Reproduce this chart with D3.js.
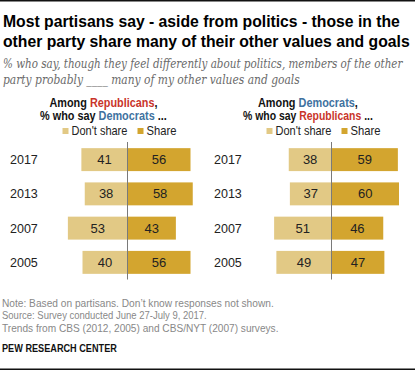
<!DOCTYPE html>
<html>
<head>
<meta charset="utf-8">
<script src="https://cdn.jsdelivr.net/npm/d3@7"></script>
<style>
  body { margin: 0; background: #fff; }
  svg { display: block; }
</style>
</head>
<body>
<svg id="chart" width="415" height="371"></svg>
<script>
// ---- data ----
var years = ["2017", "2013", "2007", "2005"];
var repDontShare = [41, 38, 53, 40];
var repShare = [56, 58, 43, 56];
var demDontShare = [38, 37, 51, 49];
var demShare = [59, 60, 46, 47];
var legendLabels = ["Don't share", "Share"];

var titleLines = [
  "Most partisans say - aside from politics - those in the",
  "other party share many of their other values and goals"
];
var subtitleLines = [
  "% who say, though they feel differently about politics, members of the other",
  "party probably ____ many of my other values and goals"
];
var noteLines = [
  "Note: Based on partisans. Don\u2019t know responses not shown.",
  "Source: Survey conducted June 27-July 9, 2017.",
  "Trends from CBS (2012, 2005) and CBS/NYT (2007) surveys."
];

var svg = d3.select("#chart"),
    width = +svg.attr("width"),
    height = +svg.attr("height");

var colDont = "#e2c985",
    colShare = "#d3a52f",
    colRep = "#c9342a",
    colDem = "#40729f",
    sans = "'Liberation Sans', Arial, sans-serif";

// squeeze a text horizontally so it spans w pixels (Pew's font is condensed)
function fit(sel, x, y, w) {
  var natural = sel.node().getComputedTextLength();
  var s = Math.min(1, w / natural);
  sel.attr("x", 0).attr("y", 0)
    .attr("transform", "translate(" + x + "," + y + ") scale(" + s + ",1)");
}

// top and bottom rules
svg.append("rect").attr("x", 0).attr("y", 0).attr("width", width).attr("height", 1.5).attr("fill", "#111");
svg.append("rect").attr("x", 0).attr("y", 368.5).attr("width", width).attr("height", 1.5).attr("fill", "#111");

// title
var titleW = [397, 407];
svg.selectAll(".title")
  .data(titleLines)
  .enter().append("text")
  .attr("class", "title")
  .style("font-family", sans)
  .style("font-weight", "bold")
  .style("font-size", "17px")
  .attr("fill", "#000")
  .text(function (d) { return d; })
  .each(function (d, i) { fit(d3.select(this), 3, 27 + i * 20, titleW[i]); });

// subtitle
var subW = [400, 297];
svg.selectAll(".subtitle")
  .data(subtitleLines)
  .enter().append("text")
  .attr("class", "subtitle")
  .style("font-family", "'DejaVu Serif', Georgia, serif")
  .style("font-style", "italic")
  .style("font-size", "12.5px")
  .attr("fill", "#6a6a6a")
  .text(function (d) { return d; })
  .each(function (d, i) { fit(d3.select(this), 3, 68 + i * 15.5, subW[i]); });

// %%%%%%%%%%%%%%%%%%%%
// % Panels           %
// %%%%%%%%%%%%%%%%%%%%

var y = d3.scaleBand()
  .domain(years)
  .range([142.5, 279.5])
  .paddingInner(0.33)
  .paddingOuter(0.165);

function drawPanel(cx, yearX, dontVals, shareVals, who, whom, whoCol, whomCol, titleX, titleW1, titleW2) {
  var x = d3.scaleLinear().domain([-100, 100]).range([cx - 112.5, cx + 112.5]);
  var g = svg.append("g");

  // panel heading
  var t1 = g.append("text")
    .style("font-family", sans).style("font-weight", "bold").style("font-size", "12px");
  t1.append("tspan").attr("fill", "#111").text("Among ");
  t1.append("tspan").attr("fill", whoCol).text(who);
  t1.append("tspan").attr("fill", "#111").text(",");
  fit(t1, titleX - titleW1 / 2, 107, titleW1);

  var t2 = g.append("text")
    .style("font-family", sans).style("font-weight", "bold").style("font-size", "12px");
  t2.append("tspan").attr("fill", "#111").text("% who say ");
  t2.append("tspan").attr("fill", whomCol).text(whom);
  t2.append("tspan").attr("fill", "#111").text(" ...");
  fit(t2, titleX - titleW2 / 2, 119.5, titleW2);

  // legend
  var legX = [cx - 65, cx + 10],
      legW = [56, 30],
      legC = [colDont, colShare];
  legendLabels.forEach(function (lab, i) {
    g.append("rect")
      .attr("x", legX[i]).attr("y", 128)
      .attr("width", 6).attr("height", 6)
      .attr("fill", legC[i]);
    var lt = g.append("text")
      .style("font-family", sans).style("font-size", "12px")
      .attr("fill", "#222")
      .text(lab);
    fit(lt, legX[i] + 9, 134.5, legW[i]);
  });

  var rows = years.map(function (yr, i) {
    return { year: yr, dont: dontVals[i], share: shareVals[i] };
  });

  // don't share bars (left of zero)
  g.selectAll(".dont")
    .data(rows)
    .enter().append("rect")
    .attr("class", "dont")
    .attr("x", function (d) { return x(-d.dont); })
    .attr("y", function (d) { return y(d.year); })
    .attr("width", function (d) { return x(0) - x(-d.dont); })
    .attr("height", y.bandwidth())
    .attr("fill", colDont);

  // share bars (right of zero)
  g.selectAll(".share")
    .data(rows)
    .enter().append("rect")
    .attr("class", "share")
    .attr("x", x(0))
    .attr("y", function (d) { return y(d.year); })
    .attr("width", function (d) { return x(d.share) - x(0); })
    .attr("height", y.bandwidth())
    .attr("fill", colShare);

  // value labels
  g.selectAll(".dontLab")
    .data(rows)
    .enter().append("text")
    .attr("x", function (d) { return (x(-d.dont) + x(0)) / 2; })
    .attr("y", function (d) { return y(d.year) + y.bandwidth() / 2 + 4.5; })
    .attr("text-anchor", "middle")
    .style("font-family", sans).style("font-size", "13px")
    .attr("fill", "#222")
    .text(function (d) { return d.dont; });

  g.selectAll(".shareLab")
    .data(rows)
    .enter().append("text")
    .attr("x", function (d) { return (x(d.share) + x(0)) / 2; })
    .attr("y", function (d) { return y(d.year) + y.bandwidth() / 2 + 4.5; })
    .attr("text-anchor", "middle")
    .style("font-family", sans).style("font-size", "13px")
    .attr("fill", "#222")
    .text(function (d) { return d.share; });

  // year labels
  g.selectAll(".yr")
    .data(rows)
    .enter().append("text")
    .attr("x", yearX)
    .attr("y", function (d) { return y(d.year) + y.bandwidth() / 2 + 4.5; })
    .style("font-family", sans).style("font-size", "12.5px")
    .attr("fill", "#222")
    .text(function (d) { return d.year; });

  // zero line
  g.append("line")
    .attr("x1", x(0)).attr("x2", x(0))
    .attr("y1", 142).attr("y2", 279.5)
    .attr("stroke", "#7a7a7a")
    .attr("stroke-width", 1);
}

drawPanel(127.5, 10, repDontShare, repShare, "Republicans", "Democrats", colRep, colDem, 103.5, 108, 127);
drawPanel(331.5, 214, demDontShare, demShare, "Democrats", "Republicans", colDem, colRep, 308, 100, 130);

// %%%%%%%%%%%%%%%%%%%%
// % Notes            %
// %%%%%%%%%%%%%%%%%%%%

var noteW = [272, 205, 277];
svg.selectAll(".note")
  .data(noteLines)
  .enter().append("text")
  .attr("class", "note")
  .style("font-family", sans).style("font-size", "10.5px")
  .attr("fill", "#888")
  .text(function (d) { return d; })
  .each(function (d, i) { fit(d3.select(this), 2, 306.5 + i * 12.6, noteW[i]); });

var pew = svg.append("text")
  .style("font-family", sans).style("font-weight", "bold").style("font-size", "10px")
  .attr("fill", "#111")
  .text("PEW RESEARCH CENTER");
fit(pew, 2, 351.5, 115);
</script>
</body>
</html>
